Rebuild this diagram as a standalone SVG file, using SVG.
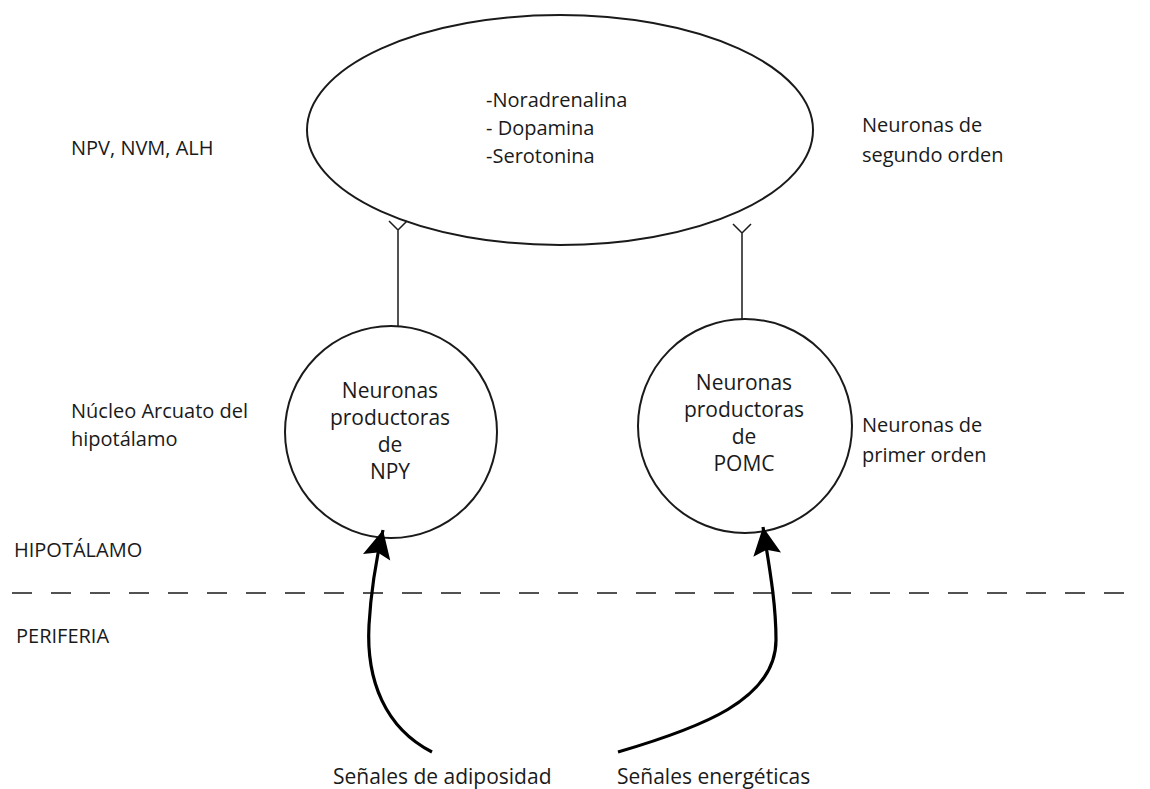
<svg xmlns="http://www.w3.org/2000/svg" width="1150" height="789" viewBox="0 0 1150 789">
<style>
text{font-family:"Open Sans","Liberation Sans",sans-serif;fill:#1a1a1a;font-size:20px}
.c{text-anchor:middle;font-size:21px}
.b{font-size:21px}
.shape{fill:none;stroke:#1a1a1a;stroke-width:2}
.thin{fill:none;stroke:#1a1a1a;stroke-width:1.5}
.arrow{fill:none;stroke:#000;stroke-width:3.2}
.dash{fill:none;stroke:#1a1a1a;stroke-width:1.6;stroke-dasharray:20 19}
</style>
<defs>
<marker id="ah" markerUnits="userSpaceOnUse" markerWidth="40" markerHeight="40" refX="30" refY="15" orient="auto" viewBox="0 0 40 30">
<path d="M30,15 L2,1 L7,15 L2,29 Z" fill="#000"/>
</marker>
</defs>
<rect width="1150" height="789" fill="#fff"/>
<g id="top-ellipse">
<ellipse class="shape" cx="560" cy="130" rx="253" ry="115"/>
<text x="486" y="107">-Noradrenalina</text>
<text x="486" y="135">- Dopamina</text>
<text x="486" y="163">-Serotonina</text>
</g>
<g id="npy">
<circle class="shape" cx="391" cy="432" r="106"/>
<text class="c" x="390" y="398">Neuronas</text>
<text class="c" x="390" y="425">productoras</text>
<text class="c" x="390" y="452">de</text>
<text class="c" x="390" y="479">NPY</text>
</g>
<g id="pomc">
<circle class="shape" cx="745" cy="426" r="107"/>
<text class="c" x="744" y="390">Neuronas</text>
<text class="c" x="744" y="417">productoras</text>
<text class="c" x="744" y="444">de</text>
<text class="c" x="744" y="471">POMC</text>
</g>
<g id="labels">
<text x="71" y="155">NPV, NVM, ALH</text>
<text x="862" y="132">Neuronas de</text>
<text x="862" y="162">segundo orden</text>
<text x="71" y="418">Núcleo Arcuato del</text>
<text x="71" y="446">hipotálamo</text>
<text x="862" y="432">Neuronas de</text>
<text x="862" y="462">primer orden</text>
<text x="14" y="557">HIPOTÁLAMO</text>
<text x="16" y="643">PERIFERIA</text>
<text class="b" x="333" y="784">Señales de adiposidad</text>
<text class="b" x="617" y="784">Señales energéticas</text>
</g>
<g id="connectors">
<path class="thin" d="M398,230 V327 M389,221 L398,230 L407,221"/>
<path class="thin" d="M742,233 V320 M733,224 L742,233 L751,224"/>
<path class="dash" d="M12,593 H1140"/>
<path class="arrow" marker-end="url(#ah)" d="M432,752 C385,728 366,680 369,625 C371,590 376,560 383,530"/>
<path class="arrow" marker-end="url(#ah)" d="M618,752 C700,728 776,700 776,640 C776,600 768,560 763,527"/>
</g>
</svg>
